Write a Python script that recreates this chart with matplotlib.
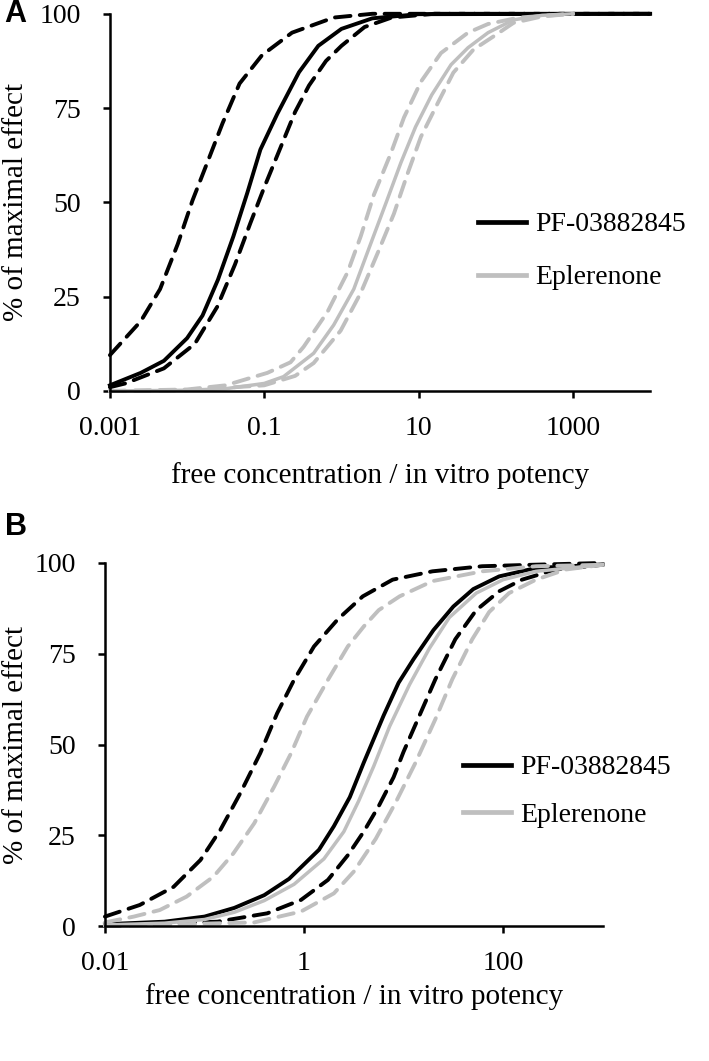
import numpy as np
import matplotlib
matplotlib.use("Agg")
import matplotlib.pyplot as plt

BLACK = "#000000"
GREY = "#bfbfbf"
SERIF = "Liberation Serif"

# ---- panel A: x values stored as log10(free conc / in vitro potency) ----
A_PF_MED_LX = [-3.0, -2.6, -2.3, -2.0, -1.8, -1.6, -1.4, -1.22, -1.05, -0.83, -0.55, -0.3, 0.0, 0.4, 1.0, 4.0]
A_PF_MED_Y = [1.5, 4.8, 8, 14, 20, 29.5, 41, 52.5, 64, 73.5, 84.5, 91.5, 96, 98.8, 99.9, 100]
A_PF_HI_LX = [-3.0, -2.6, -2.35, -2.12, -1.93, -1.72, -1.54, -1.32, -1.03, -0.64, -0.1, 0.4, 4.0]
A_PF_HI_Y = [9.5, 18.5, 27, 39, 50.5, 61.5, 71, 81.5, 89, 95, 99, 100, 100]
A_PF_LO_LX = [-3.0, -2.8, -2.3, -1.9, -1.61, -1.38, -1.18, -1.0, -0.8, -0.6, -0.42, -0.2, 0.0, 0.3, 0.65, 1.2, 4.0]
A_PF_LO_Y = [1, 2, 6, 12.5, 22.3, 33.5, 44.5, 54, 64, 74, 81, 87.5, 91.5, 96.5, 99, 100, 100]
A_EP_MED_LX = [-3.0, -2.0, -1.5, -1.0, -0.75, -0.36, -0.1, 0.16, 0.36, 0.58, 0.77, 0.96, 1.17, 1.42, 1.64, 1.9, 2.23, 2.6, 3.0]
A_EP_MED_Y = [0, 0.2, 0.6, 2, 3.8, 10, 17.5, 27, 38, 50, 60.5, 70, 78.5, 86.5, 91, 95, 98.4, 99.6, 100]
A_EP_HI_LX = [-3.0, -2.0, -1.5, -0.96, -0.66, -0.49, -0.18, 0.08, 0.25, 0.42, 0.64, 0.81, 1.03, 1.29, 1.64, 1.9, 2.3, 3.0]
A_EP_HI_Y = [0, 0.4, 1.5, 4.8, 7.6, 11.7, 21, 31.5, 41, 52, 63, 72.5, 82, 89.6, 95, 97.3, 99, 100]
A_EP_LO_LX = [-3.0, -2.0, -1.0, -0.6, -0.36, -0.01, 0.25, 0.47, 0.68, 0.86, 1.03, 1.25, 1.45, 1.71, 1.97, 2.23, 2.6, 3.0]
A_EP_LO_Y = [0, 0.2, 1.5, 4, 7.4, 16, 26, 36.6, 47, 57.8, 67.4, 76.4, 84.4, 90.5, 94, 97.6, 99.3, 100]

# ---- panel B ----
B_PF_MED_LX = [-2.0, -1.4, -1.0, -0.7, -0.4, -0.15, 0.15, 0.3, 0.46, 0.6, 0.8, 0.95, 1.1, 1.3, 1.5, 1.7, 1.96, 2.33, 3.0]
B_PF_MED_Y = [0.5, 1.2, 2.6, 5, 8.5, 13, 21, 27.5, 35.5, 45, 58, 67, 73.5, 81.5, 88, 92.8, 96.3, 98.6, 99.6]
B_PF_HI_LX = [-2.0, -1.65, -1.31, -1.04, -0.84, -0.64, -0.44, -0.27, -0.1, 0.1, 0.34, 0.59, 0.89, 1.29, 1.79, 2.29, 3.0]
B_PF_HI_Y = [2.6, 5.8, 10.8, 18.2, 26.5, 36.6, 47.6, 58.6, 67.8, 77, 84.5, 90.8, 95.4, 97.7, 99.1, 99.5, 100]
B_PF_LO_LX = [-2.0, -0.87, -0.37, -0.03, 0.24, 0.44, 0.6, 0.75, 0.9, 1.0, 1.16, 1.32, 1.52, 1.73, 1.96, 2.19, 2.53, 3.0]
B_PF_LO_Y = [0, 1.2, 3.5, 7.2, 12.7, 19.5, 26, 33, 41, 48, 58, 68, 79, 87, 92.2, 95.4, 98.2, 99.5]
B_EP_MED_LX = [-2.0, -1.4, -1.0, -0.7, -0.4, -0.1, 0.2, 0.4, 0.55, 0.7, 0.86, 1.06, 1.26, 1.46, 1.73, 2.0, 2.33, 3.0]
B_EP_MED_Y = [0.3, 0.8, 1.8, 3.8, 7, 11.5, 18.5, 26, 34.5, 44, 55, 66.5, 76.5, 85, 91.7, 95.4, 97.7, 99.5]
B_EP_HI_LX = [-2.0, -1.71, -1.45, -1.18, -0.91, -0.71, -0.5, -0.3, -0.13, 0.03, 0.24, 0.44, 0.6, 0.75, 0.96, 1.29, 1.79, 2.33, 3.0]
B_EP_HI_Y = [1, 2.6, 4.4, 8.1, 13.6, 20, 28.3, 38.4, 47.6, 57.7, 67.8, 77, 82.5, 87, 90.8, 95, 97.7, 99.1, 99.5]
B_EP_LO_LX = [-2.0, -0.5, -0.03, 0.3, 0.5, 0.72, 0.92, 1.12, 1.32, 1.49, 1.69, 1.86, 2.06, 2.33, 2.63, 3.0]
B_EP_LO_Y = [0, 1, 4, 9, 15, 24, 34, 45, 57, 68, 79, 86.5, 91.7, 95.4, 98.2, 99.5]

A_XTICKS = [0.001, 0.1, 10, 1000]
A_XTICKLABELS = ["0.001", "0.1", "10", "1000"]
B_XTICKS = [0.01, 1, 100]
B_XTICKLABELS = ["0.01", "1", "100"]
YTICKS = [0, 25, 50, 75, 100]
LABELS = ["PF-03882845", "Eplerenone"]


def _curve(ax, lx, y, color, dashed=False, label=None):
    x = np.power(10.0, np.asarray(lx, dtype=float))
    if dashed:
        ax.plot(x, y, color=color, lw=2.8, dashes=(4.0, 2.4), clip_on=False,
                dash_capstyle="round")
    else:
        lw = 2.8 if color == BLACK else 2.5
        ax.plot(x, y, color=color, lw=lw, clip_on=False, label=label,
                solid_joinstyle="round")


def _style(ax, xlim, xticks, xlabels, ylab_x, xlab_y, leg_xy, spacing):
    ax.set_xscale("log")
    ax.set_xlim(*xlim)
    ax.set_ylim(0, 100)
    ax.xaxis.set_major_locator(matplotlib.ticker.FixedLocator(xticks))
    ax.xaxis.set_minor_locator(matplotlib.ticker.NullLocator())
    ax.set_xticklabels(xlabels)
    ax.set_yticks(YTICKS)
    for s in ("top", "right"):
        ax.spines[s].set_visible(False)
    for s in ("left", "bottom"):
        ax.spines[s].set_linewidth(1.8)
    ax.tick_params(direction="out", length=5, width=1.8, labelsize=20)
    ax.tick_params(axis="x", pad=13)
    ax.tick_params(axis="y", pad=16)
    for t in ax.get_xticklabels() + ax.get_yticklabels():
        t.set_fontfamily(SERIF)
    ax.set_xlabel("free concentration / in vitro potency", fontsize=21, fontfamily=SERIF)
    ax.set_ylabel("% of maximal effect", fontsize=21, fontfamily=SERIF)
    ax.xaxis.set_label_coords(0.5, xlab_y)
    ax.xaxis.label.set_va("center")
    ax.yaxis.set_label_coords(ylab_x, 0.5)
    ax.yaxis.label.set_va("center")
    leg = ax.legend(loc="upper left", bbox_to_anchor=leg_xy, frameon=False,
                    prop={"family": SERIF, "size": 20}, handlelength=1.75,
                    handletextpad=0.3, labelspacing=spacing, borderpad=0, borderaxespad=0)
    for h in leg.get_lines():
        h.set_linewidth(3.4)


def main():
    fig = plt.figure(figsize=(7.09, 10.61), dpi=100)
    fig.patch.set_facecolor("white")

    axA = fig.add_axes([0.155, 0.6315, 0.762, 0.3555])
    _curve(axA, A_PF_HI_LX, A_PF_HI_Y, BLACK, dashed=True)
    _curve(axA, A_PF_LO_LX, A_PF_LO_Y, BLACK, dashed=True)
    _curve(axA, A_PF_MED_LX, A_PF_MED_Y, BLACK, label=LABELS[0])
    _curve(axA, A_EP_HI_LX, A_EP_HI_Y, GREY, dashed=True)
    _curve(axA, A_EP_LO_LX, A_EP_LO_Y, GREY, dashed=True)
    _curve(axA, A_EP_MED_LX, A_EP_MED_Y, GREY, label=LABELS[1])
    _style(axA, (0.001, 10000), A_XTICKS, A_XTICKLABELS, -0.174, -0.225,
           (0.681, 0.475), 1.0)

    axB = fig.add_axes([0.148, 0.1272, 0.702, 0.3422])
    _curve(axB, B_PF_HI_LX, B_PF_HI_Y, BLACK, dashed=True)
    _curve(axB, B_PF_LO_LX, B_PF_LO_Y, BLACK, dashed=True)
    _curve(axB, B_PF_MED_LX, B_PF_MED_Y, BLACK, label=LABELS[0])
    _curve(axB, B_EP_HI_LX, B_EP_HI_Y, GREY, dashed=True)
    _curve(axB, B_EP_LO_LX, B_EP_LO_Y, GREY, dashed=True)
    _curve(axB, B_EP_MED_LX, B_EP_MED_Y, GREY, label=LABELS[1])
    _style(axB, (0.01, 1000), B_XTICKS, B_XTICKLABELS, -0.179, -0.195,
           (0.719, 0.471), 0.78)

    fig.text(0.022, 0.987, "A", fontsize=22, fontweight="bold",
             fontfamily="Liberation Sans", ha="center", va="center")
    fig.text(0.023, 0.503, "B", fontsize=22, fontweight="bold",
             fontfamily="Liberation Sans", ha="center", va="center")

    fig.savefig("out.png", dpi=100, facecolor="white")


if __name__ == "__main__":
    main()
